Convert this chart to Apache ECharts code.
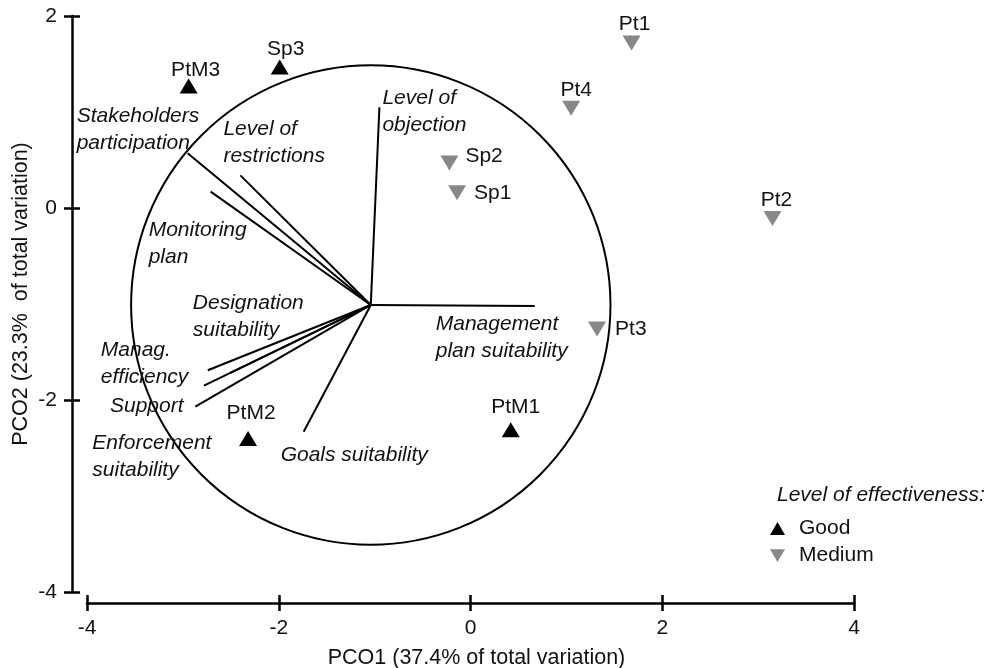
<!DOCTYPE html>
<html>
<head>
<meta charset="utf-8">
<script src="https://cdn.jsdelivr.net/npm/echarts@6/dist/echarts.min.js"></script>
<style>
html, body { margin: 0; padding: 0; background: #fff; }
#chart { width: 993px; height: 668px; }
</style>
</head>
<body>
<div id="chart"></div>
<script>
// Site scores on the first two principal coordinates
const sites = ['Pt1', 'Pt2', 'Pt3', 'Pt4', 'Sp1', 'Sp2', 'Sp3', 'PtM1', 'PtM2', 'PtM3'];
const pco1 = [1.68, 3.15, 1.32, 1.05, -0.14, -0.22, -1.99, 0.42, -2.32, -2.94];
const pco2 = [1.72, -0.11, -1.26, 1.04, 0.16, 0.47, 1.47, -2.31, -2.40, 1.27];
const effectiveness = ['Medium', 'Medium', 'Medium', 'Medium', 'Medium', 'Medium', 'Good', 'Good', 'Good', 'Good'];

// Variable vectors, drawn from a common origin
const variables = [
  'Stakeholders\nparticipation', 'Level of\nrestrictions', 'Level of\nobjection',
  'Monitoring\nplan', 'Designation\nsuitability', 'Manag.\nefficiency', 'Support',
  'Enforcement\nsuitability', 'Goals suitability', 'Management\nplan suitability'
];
const vecX = [-2.95, -2.40, -0.95, -2.71, -2.51, -2.74, -2.78, -2.87, -1.74, 0.67];
const vecY = [0.57, 0.34, 1.05, 0.17, -1.72, -1.69, -1.85, -2.07, -2.33, -1.02];
const vectorOrigin = [-1.04, -1.01];
const circleRadius = 2.5;

// Axis ticks and legend groups
const xTicks = [-4, -2, 0, 2, 4];
const yTicks = [-4, -2, 0, 2];
const levels = ['Good', 'Medium'];

// ---- layout and style ----
const FONT = '"Liberation Sans", Arial, Helvetica, sans-serif';
const TEXT = '#111';
const LEVEL_COLOR = { Good: '#000000', Medium: '#888888' };
const LEVEL_SYMBOL = { Good: 'triangle', Medium: 'path://M0,0 L20,0 L10,17 Z' };

// where each site name sits relative to its marker (pixels)
const siteLabelLayout = {
  Pt1: { align: 'center', dx: 3, dy: -19 },
  Pt2: { align: 'center', dx: 4, dy: -18 },
  Pt3: { align: 'left', dx: 18, dy: 0 },
  Pt4: { align: 'center', dx: 5, dy: -18 },
  Sp1: { align: 'left', dx: 17, dy: 1 },
  Sp2: { align: 'left', dx: 16, dy: -7 },
  Sp3: { align: 'center', dx: 6, dy: -18 },
  PtM1: { align: 'center', dx: 5, dy: -23 },
  PtM2: { align: 'center', dx: 3, dy: -25 },
  PtM3: { align: 'center', dx: 7, dy: -16 }
};
// where each variable name sits relative to the tip of its vector (pixels)
const variableLabelOffset = [
  [-111, -24], [-17, -33], [3, 4], [-62, 52], [-37, -56],
  [-107, -7], [-94, 21], [-103, 50], [-23, 23], [-99, 32]
];

function siteData(level) {
  const out = [];
  sites.forEach((name, i) => {
    if (effectiveness[i] !== level) return;
    const l = siteLabelLayout[name];
    out.push({
      name: name,
      value: [pco1[i], pco2[i]],
      label: { align: l.align, offset: [l.dx, l.dy] }
    });
  });
  return out;
}

const axisLineStyle = { color: '#000', width: 2.5 };

function valueAxis(extra) {
  return Object.assign({
    type: 'value',
    splitLine: { show: false },
    axisLine: { show: true, onZero: false, lineStyle: axisLineStyle },
    axisTick: { show: true, length: 8, lineStyle: axisLineStyle },
    axisLabel: { margin: 15, fontSize: 21, color: TEXT, fontFamily: FONT }
  }, extra);
}

// companion axis that only draws the inner half of each tick
function innerTickAxis(extra) {
  return valueAxis(Object.assign({
    axisLine: { show: false, onZero: false },
    axisTick: { show: true, inside: true, length: 8, lineStyle: axisLineStyle },
    axisLabel: { show: false }
  }, extra));
}

const xExtent = { min: xTicks[0], max: xTicks[xTicks.length - 1], interval: xTicks[1] - xTicks[0] };
const yExtent = { min: yTicks[0], max: yTicks[yTicks.length - 1], interval: yTicks[1] - yTicks[0] };

const option = {
  animation: false,
  backgroundColor: '#fff',
  textStyle: { fontFamily: FONT },
  title: {
    text: 'Level of effectiveness:',
    left: 777, top: 485, padding: 0,
    textStyle: { fontStyle: 'italic', fontWeight: 'normal', fontSize: 21, lineHeight: 21, color: TEXT, fontFamily: FONT }
  },
  legend: {
    data: levels,
    orient: 'vertical',
    left: 770, top: 518,
    padding: 0,
    itemWidth: 15, itemHeight: 13, itemGap: 6,
    selectedMode: false,
    textStyle: { fontSize: 21, lineHeight: 21, color: TEXT, fontFamily: FONT, padding: [0, 0, 0, 9] }
  },
  grid: { left: 87, right: 139, top: 16, bottom: 76, containLabel: false, outerBoundsMode: 'none' },
  xAxis: [
    valueAxis(Object.assign({
      position: 'bottom', offset: 11,
      name: 'PCO1 (37.4% of total variation)', nameLocation: 'middle', nameGap: 44,
      nameMoveOverlap: false,
      nameTextStyle: { fontSize: 21.5, color: TEXT, fontFamily: FONT, padding: [0, 0, 0, 12] }
    }, xExtent)),
    innerTickAxis(Object.assign({ position: 'bottom', offset: 11 }, xExtent))
  ],
  yAxis: [
    valueAxis(Object.assign({
      position: 'left', offset: 15,
      name: 'PCO2 (23.3%  of total variation)', nameLocation: 'middle', nameGap: 40, nameRotate: 90,
      nameMoveOverlap: false,
      nameTextStyle: { fontSize: 21.5, color: TEXT, fontFamily: FONT, padding: [0, 0, 0, 20] }
    }, yExtent)),
    innerTickAxis(Object.assign({ position: 'left', offset: 15 }, yExtent))
  ],
  series: [
    {
      // correlation circle around the vector origin
      type: 'custom',
      silent: true,
      z: 1,
      data: [[vectorOrigin[0], vectorOrigin[1], circleRadius]],
      renderItem: function (params, api) {
        const c = api.coord([api.value(0), api.value(1)]);
        const r = api.size([api.value(2), 0])[0];
        return {
          type: 'circle',
          shape: { cx: c[0], cy: c[1], r: r },
          style: { fill: 'none', stroke: '#000', lineWidth: 2 }
        };
      }
    },
    {
      // variable vectors with their names
      type: 'custom',
      silent: true,
      z: 2,
      data: variables.map((v, i) => [vecX[i], vecY[i]]),
      renderItem: function (params, api) {
        const o = api.coord(vectorOrigin);
        const e = api.coord([api.value(0), api.value(1)]);
        const off = variableLabelOffset[params.dataIndex];
        return {
          type: 'group',
          children: [
            {
              type: 'line',
              shape: { x1: o[0], y1: o[1], x2: e[0], y2: e[1] },
              style: { stroke: '#000', lineWidth: 2 }
            },
            {
              type: 'text',
              x: e[0] + off[0],
              y: e[1] + off[1],
              style: {
                text: variables[params.dataIndex],
                fontSize: 21, fontStyle: 'italic', fontFamily: FONT,
                lineHeight: 27, fill: TEXT,
                align: 'left', verticalAlign: 'middle'
              }
            }
          ]
        };
      }
    }
  ].concat(levels.map(level => ({
    type: 'scatter',
    name: level,
    z: 5,
    symbol: LEVEL_SYMBOL[level],
    symbolSize: [18, 15],
    itemStyle: { color: LEVEL_COLOR[level], opacity: 1 },
    label: {
      show: true, position: 'inside', formatter: '{b}',
      fontSize: 21, color: TEXT, fontFamily: FONT, verticalAlign: 'middle',
      textBorderWidth: 0, textBorderColor: 'transparent'
    },
    emphasis: { disabled: true },
    data: siteData(level)
  })))
};

const chart = echarts.init(document.getElementById('chart'), null, { renderer: 'canvas' });
chart.setOption(option);
</script>
</body>
</html>
